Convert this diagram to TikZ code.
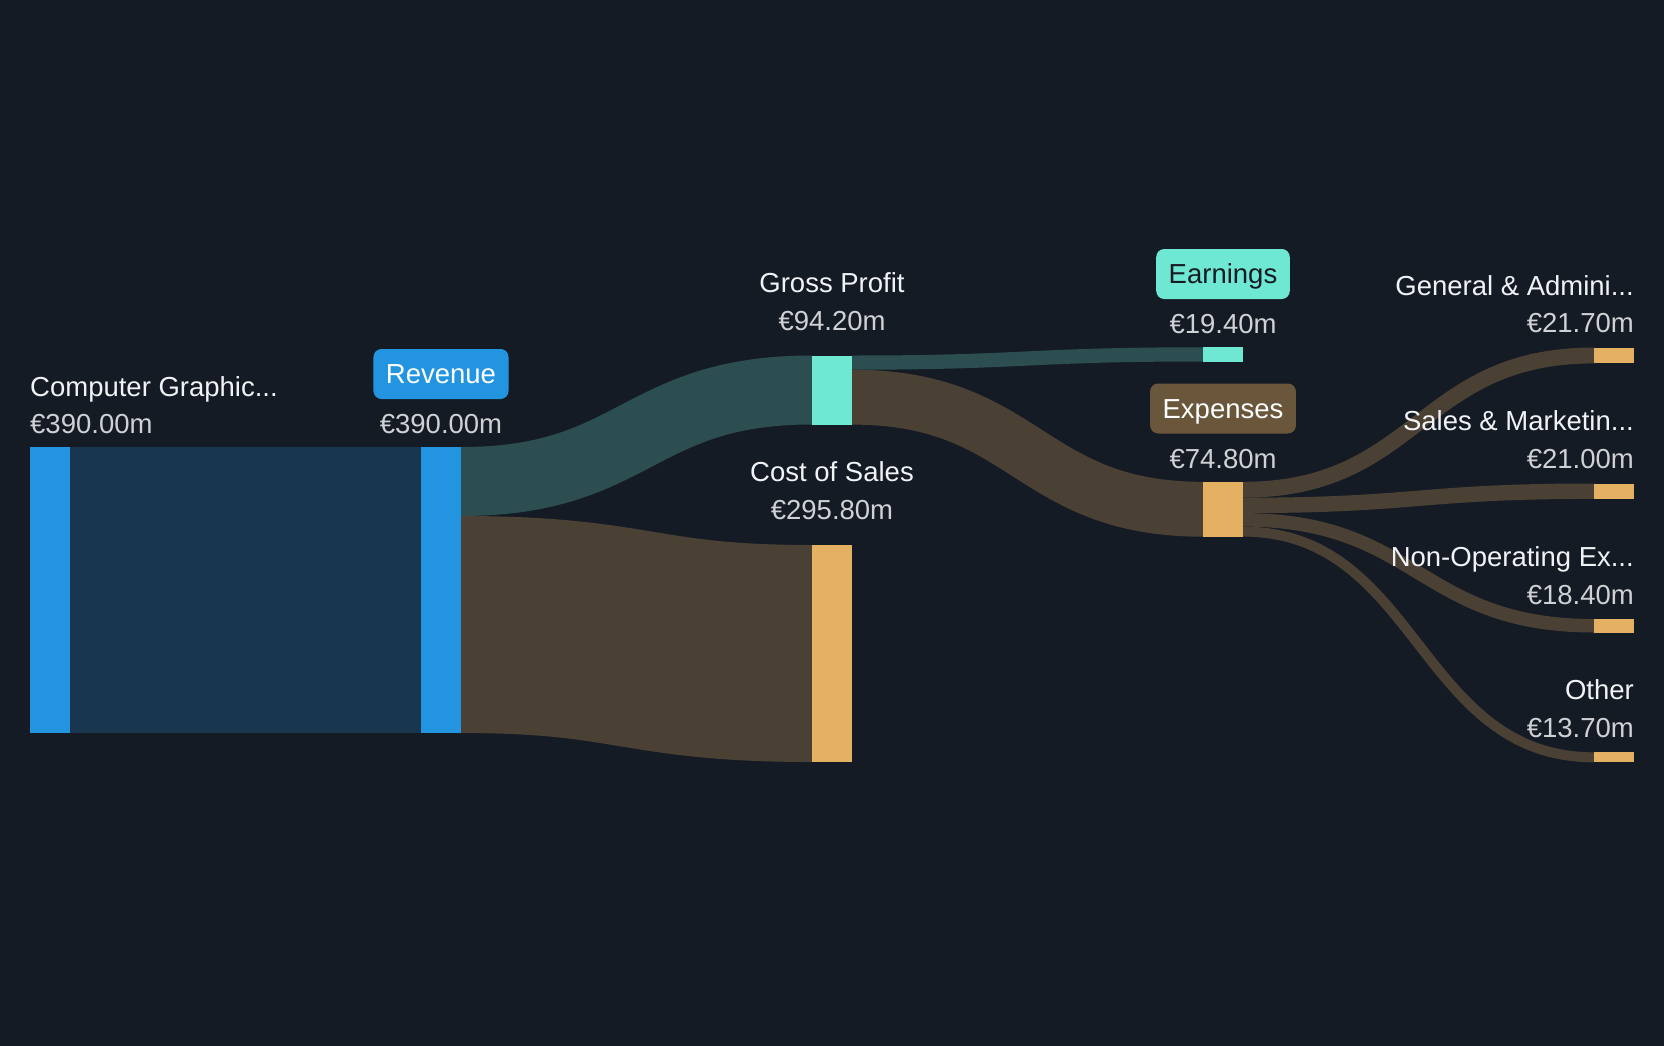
\documentclass[tikz,border=0pt]{standalone}
\usepackage{fontspec}
\setmainfont{Liberation Sans}
\usetikzlibrary{calc}
\definecolor{cbg}{HTML}{151B25}
\definecolor{cblue}{HTML}{2394DF}
\definecolor{clinkblue}{HTML}{18374F}
\definecolor{cteal}{HTML}{6EE7D3}
\definecolor{clinkteal}{HTML}{2C4E51}
\definecolor{clinkbrown}{HTML}{4A4034}
\definecolor{corange}{HTML}{E4B062}
\definecolor{cexp}{HTML}{6A563B}
\definecolor{cname}{HTML}{F0F2F5}
\definecolor{cval}{HTML}{D0D1D4}
% stroked sankey link: colour, source node, offset of band top from source top, target node, thickness
\newcommand{\sflow}[5]{%
  \draw[#1, line width=#5pt] ($(#2)+(0,#3+#5/2)$) .. controls +(175.5,0) and +(-175.5,0) .. ($(#4)+(0,#5/2)$);}
\begin{document}
\begin{tikzpicture}[x=1pt,y=-1pt,
  bar/.style={rectangle, inner sep=0pt, outer sep=0pt, minimum width=40pt, anchor=north west},
  lbl/.style={font=\fontsize{27.5}{33}\selectfont, inner sep=0pt, text=cname},
  val/.style={font=\fontsize{27.5}{33}\selectfont, inner sep=0pt, text=cval},
  pill/.style={font=\fontsize{27.5}{33}\selectfont, rounded corners=8pt, inner xsep=12.5pt, inner ysep=0pt,
    minimum height=50pt, text height=19.7pt, text depth=0pt}]
\fill[cbg] (0,0) rectangle (1664,1046);
\useasboundingbox (0,0) rectangle (1664,1046);
% bar positions (drawn later on top of the links)
\path node[bar, minimum height=286pt] (cg) at (30,447) {}
      node[bar, minimum height=286pt] (rev) at (421,447) {}
      node[bar, minimum height=69pt] (gp) at (812,355.5) {}
      node[bar, minimum height=217pt] (cos) at (812,545) {}
      node[bar, minimum height=14.2pt] (earn) at (1203,347.3) {}
      node[bar, minimum height=54.9pt] (exp) at (1203,481.8) {}
      node[bar, minimum height=15.9pt] (ga) at (1594,347.5) {}
      node[bar, minimum height=15.4pt] (sm) at (1594,483.5) {}
      node[bar, minimum height=13.5pt] (nop) at (1594,619) {}
      node[bar, minimum height=10pt] (oth) at (1594,752.3) {};
% links
\fill[clinkblue] (cg.north east) rectangle (rev.south west);
\sflow{clinkteal}{rev.north east}{0}{gp.north west}{69}
\sflow{clinkbrown}{rev.north east}{69}{cos.north west}{217}
\sflow{clinkteal}{gp.north east}{0}{earn.north west}{14.2}
\sflow{clinkbrown}{gp.north east}{14.2}{exp.north west}{54.9}
\sflow{clinkbrown}{exp.north east}{0}{ga.north west}{15.9}
\sflow{clinkbrown}{exp.north east}{15.9}{sm.north west}{15.4}
\sflow{clinkbrown}{exp.north east}{31.3}{nop.north west}{13.5}
\sflow{clinkbrown}{exp.north east}{44.8}{oth.north west}{10}
% bars
\fill[cblue] (cg.north west) rectangle (cg.south east);
\fill[cblue] (rev.north west) rectangle (rev.south east);
\fill[cteal] (gp.north west) rectangle (gp.south east);
\fill[corange] (cos.north west) rectangle (cos.south east);
\fill[cteal] (earn.north west) rectangle (earn.south east);
\fill[corange] (exp.north west) rectangle (exp.south east);
\fill[corange] (ga.north west) rectangle (ga.south east);
\fill[corange] (sm.north west) rectangle (sm.south east);
\fill[corange] (nop.north west) rectangle (nop.south east);
\fill[corange] (oth.north west) rectangle (oth.south east);
% labels
\node[lbl, anchor=base west] (cgn) at (30,396) {Computer Graphic...};
\node[val, anchor=base west] (cgv) at (30,433) {€390.00m};
\node[pill, fill=cblue, text=white] (revp) at (441,374) {Revenue};
\node[val, anchor=base] (revv) at (441,433) {€390.00m};
\node[lbl, anchor=base] (gpn) at (832,292) {Gross Profit};
\node[val, anchor=base] (gpv) at (832,330) {€94.20m};
\node[lbl, anchor=base] (cosn) at (832,481.5) {Cost of Sales};
\node[val, anchor=base] (cosv) at (832,519.5) {€295.80m};
\node[pill, fill=cteal, text=cbg] (earnp) at (1223,274) {Earnings};
\node[val, anchor=base] (earnv) at (1223,333) {€19.40m};
\node[pill, fill=cexp, text=white] (expp) at (1223,408.5) {Expenses};
\node[val, anchor=base] (expv) at (1223,468) {€74.80m};
\node[lbl, anchor=base east] (gan) at (1634,295) {General \& Admini...};
\node[val, anchor=base east] (gav) at (1634,332.7) {€21.70m};
\node[lbl, anchor=base east] (smn) at (1634,430.7) {Sales \& Marketin...};
\node[val, anchor=base east] (smv) at (1634,468.3) {€21.00m};
\node[lbl, anchor=base east] (nopn) at (1634,566.7) {Non-Operating Ex...};
\node[val, anchor=base east] (nopv) at (1634,604) {€18.40m};
\node[lbl, anchor=base east] (othn) at (1634,699.3) {Other};
\node[val, anchor=base east] (othv) at (1634,737.3) {€13.70m};
\end{tikzpicture}
\end{document}
